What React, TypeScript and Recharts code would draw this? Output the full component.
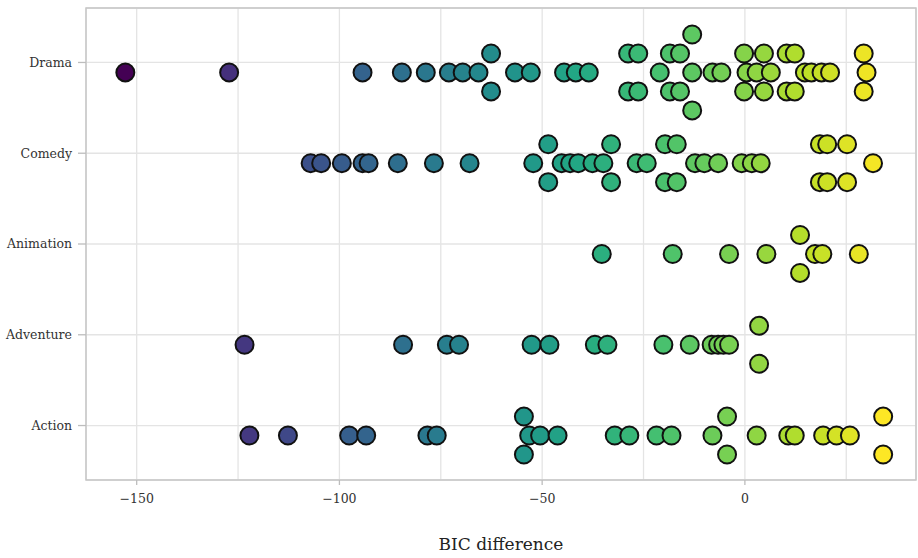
import { CartesianGrid, ReferenceArea, Scatter, ScatterChart, XAxis, YAxis } from 'recharts'

// genres bottom to top (index + 1 is the row position)
const genres = ['Action', 'Adventure', 'Animation', 'Comedy', 'Drama']

// [BIC difference, swarm lane] — lane +1 sits above the row centre, -1 below
const actionPts: [number, number][] = [
  [-122.2, 0], [-112.7, 0], [-97.6, 0], [-93.4, 0], [-78.3, 0], [-76.0, 0],
  [-54.5, 1], [-54.5, -1], [-53.2, 0], [-50.5, 0], [-46.2, 0], [-32.1, 0],
  [-28.5, 0], [-21.8, 0], [-18.1, 0], [-8.0, 0], [-4.4, 1], [-4.4, -1],
  [2.9, 0], [10.7, 0], [12.3, 0], [19.3, 0], [22.6, 0], [25.9, 0],
  [34.1, 1], [34.1, -1],
]
const adventurePts: [number, number][] = [
  [-123.4, 0], [-84.3, 0], [-73.5, 0], [-70.5, 0], [-52.6, 0], [-48.2, 0],
  [-37.0, 0], [-33.9, 0], [-20.1, 0], [-13.6, 0], [-8.2, 0], [-6.6, 0],
  [-5.3, 0], [-3.9, 0], [3.5, 1], [3.5, -1],
]
const animationPts: [number, number][] = [
  [-35.3, 0], [-17.8, 0], [-3.9, 0], [5.3, 0], [13.6, 1], [13.6, -1],
  [17.3, 0], [19.1, 0], [28.1, 0],
]
const comedyPts: [number, number][] = [
  [-107.1, 0], [-104.5, 0], [-99.4, 0], [-94.3, 0], [-92.8, 0], [-85.6, 0],
  [-76.7, 0], [-67.9, 0], [-52.2, 0], [-48.5, 1], [-48.5, -1], [-45.2, 0],
  [-43.1, 0], [-41.1, 0], [-37.6, 0], [-34.9, 0], [-33.0, 1], [-33.0, -1],
  [-26.7, 0], [-24.2, 0], [-19.7, 1], [-16.8, 1], [-19.7, -1], [-16.8, -1],
  [-12.3, 0], [-10.0, 0], [-6.6, 0], [-0.8, 0], [1.7, 0], [3.9, 0],
  [18.5, 1], [20.3, 1], [25.2, 1], [18.5, -1], [20.3, -1], [25.2, -1],
  [31.6, 0],
]
const dramaPts: [number, number][] = [
  [-152.8, 0], [-127.2, 0], [-94.3, 0], [-84.6, 0], [-78.7, 0], [-73.0, 0],
  [-69.6, 0], [-65.7, 0], [-62.6, 1], [-62.6, -1], [-56.7, 0], [-52.8, 0],
  [-44.6, 0], [-41.7, 0], [-38.5, 0], [-28.8, 1], [-26.3, 1], [-28.8, -1],
  [-26.3, -1], [-21.0, 0], [-18.5, 1], [-16.0, 1], [-18.5, -1], [-16.0, -1],
  [-13.0, 0], [-13.0, 2], [-13.0, -2], [-8.0, 0], [-5.8, 0], [-0.2, 1],
  [4.7, 1], [0.4, 0], [2.9, 0], [6.4, 0], [-0.2, -1], [4.7, -1],
  [10.3, 1], [12.3, 1], [10.3, -1], [12.3, -1], [14.8, 0], [16.4, 0],
  [18.9, 0], [21.0, 0], [29.3, 1], [30.0, 0], [29.3, -1],
]

const xTicks = [-150, -125, -100, -75, -50, -25, 0, 25]
const xDomain = [-162.5, 42.2]

const viridisStops = [
  '#440154', '#482576', '#414487', '#35608D', '#2A788E', '#21908C',
  '#22A884', '#43BF71', '#7AD151', '#BBDF27', '#FDE725',
]

const seriesByGenre = [actionPts, adventurePts, animationPts, comedyPts, dramaPts]

// dots sit a little under their row line, lanes stack ~0.21 apart
const rows = seriesByGenre
  .flatMap((pts, gi) =>
    pts.map(([bic, lane]) => ({ bic, y: gi + 1 - 0.11 + lane * 0.209, genre: genres[gi] })),
  )
  .sort((a, b) => a.bic - b.bic)

const allBic = rows.map((r) => r.bic)
const bicMin = Math.min(...allBic)
const bicMax = Math.max(...allBic)

function hexToRgb(h: string) {
  const n = parseInt(h.slice(1), 16)
  return [(n >> 16) & 255, (n >> 8) & 255, n & 255]
}

function viridis(v: number): string {
  const t = Math.max(0, Math.min(1, (v - bicMin) / (bicMax - bicMin)))
  const pos = t * (viridisStops.length - 1)
  const i = Math.min(Math.floor(pos), viridisStops.length - 2)
  const f = pos - i
  const a = hexToRgb(viridisStops[i])
  const b = hexToRgb(viridisStops[i + 1])
  const c = a.map((av, k) => Math.round(av + (b[k] - av) * f))
  return `rgb(${c[0]},${c[1]},${c[2]})`
}

function SwarmDot(props: any) {
  const { cx, cy, payload } = props
  if (cx == null || cy == null) return null
  return (
    <circle cx={cx} cy={cy} r={9} fill={viridis(payload.bic)} stroke="#111" strokeWidth={2} />
  )
}

function XTick(props: any) {
  const { x, y, payload } = props
  if (payload.value % 50 !== 0) return null
  const label = payload.value < 0 ? `\u2212${Math.abs(payload.value)}` : String(payload.value)
  return (
    <g>
      <line x1={x} x2={x} y1={y} y2={y + 5} stroke="#bdbdbd" strokeWidth={1.3} />
      <text x={x} y={y + 23} textAnchor="middle" fontSize={12.5} fill="#333">
        {label}
      </text>
    </g>
  )
}

export default function App() {
  return (
    <div style={{ position: 'absolute', left: 0, top: 0, width: 918, height: 558, background: '#fff', fontFamily: '"DejaVu Serif", serif' }}>
      <ScatterChart width={918} height={558} margin={{ top: 8, right: 2, bottom: 0, left: 0 }}>
        <CartesianGrid stroke="#e4e4e4" strokeWidth={1.3} />
        <ReferenceArea
          x1={xDomain[0]}
          x2={xDomain[1]}
          y1={0.4}
          y2={5.6}
          fill="none"
          stroke="#c6c6c6"
          strokeWidth={1.5}
          fillOpacity={0}
        />
        <XAxis
          type="number"
          dataKey="bic"
          domain={xDomain}
          ticks={xTicks}
          allowDataOverflow
          axisLine={false}
          tickLine={false}
          tickSize={0}
          tickMargin={0}
          height={78}
          tick={<XTick />}
          label={{ value: 'BIC difference', position: 'insideBottom', offset: 8, fontSize: 17, fill: '#222' }}
        />
        <YAxis
          type="number"
          dataKey="y"
          domain={[0.4, 5.6]}
          ticks={[1, 2, 3, 4, 5]}
          allowDataOverflow
          width={86}
          axisLine={false}
          tickLine={{ stroke: '#bdbdbd', strokeWidth: 1.3 }}
          tickSize={8}
          tickMargin={6}
          tick={{ fontSize: 12.5, fill: '#333' }}
          tickFormatter={(v: number) => genres[v - 1] ?? ''}
        />
        <Scatter data={rows} shape={<SwarmDot />} isAnimationActive={false} />
      </ScatterChart>
    </div>
  )
}
